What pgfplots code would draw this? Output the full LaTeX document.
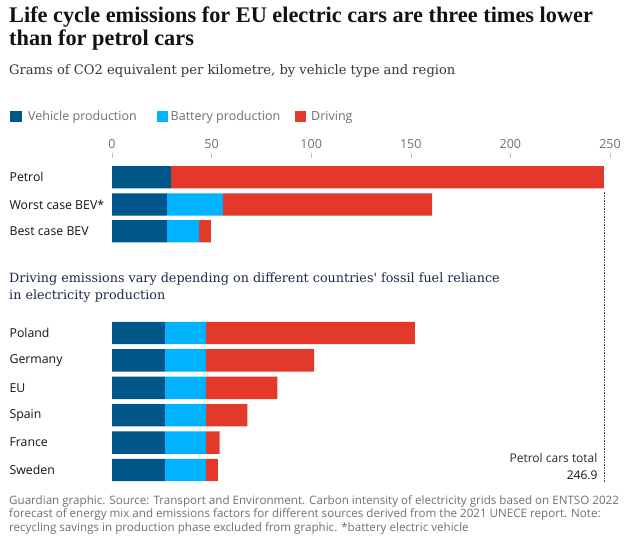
\documentclass[border=0pt]{standalone}
\usepackage{fontspec}
\setmainfont{Open Sans}
\newfontfamily\serif{Liberation Serif}
\newfontfamily\slab{DejaVu Serif}
\usepackage{pgfplots}
\pgfplotsset{compat=1.18}

\definecolor{vehicle}{HTML}{005689}
\definecolor{battery}{HTML}{00B2FF}
\definecolor{driving}{HTML}{E3392A}
\definecolor{ink}{HTML}{121212}
\definecolor{greytxt}{HTML}{707070}
\definecolor{navy}{HTML}{1B2A4A}

\begin{document}
\begin{tikzpicture}[x=1pt,y=1pt]
% page frame, 1 px = 1 pt
\fill[white] (0,0) rectangle (637,-542);
\path[use as bounding box] (0,0) rectangle (637,-542);

% titles
\node[anchor=base west,inner sep=0,text=ink] at (9,-22.7)
  {\serif\bfseries\fontsize{22.3}{23}\selectfont Life cycle emissions for EU electric cars are three times lower};
\node[anchor=base west,inner sep=0,text=ink] at (9,-45)
  {\serif\bfseries\fontsize{22.3}{23}\selectfont than for petrol cars};
\node[anchor=base west,inner sep=0,text=ink!85] at (9,-74)
  {\slab\fontsize{13.1}{16}\selectfont Grams of CO2 equivalent per kilometre, by vehicle type and region};

% legend
\fontsize{12.5}{14}\selectfont
\fill[vehicle] (10,-110.5) rectangle (21.5,-121.5);
\node[anchor=base west,inner sep=0,text=greytxt] at (28,-120.5) {Vehicle production};
\fill[battery] (156.5,-110.5) rectangle (168,-121.5);
\node[anchor=base west,inner sep=0,text=greytxt] at (170.5,-120.5) {Battery production};
\fill[driving] (294.5,-110.5) rectangle (306,-121.5);
\node[anchor=base west,inner sep=0,text=greytxt] at (311,-120.5) {Driving};

% second subtitle
\node[anchor=base west,inner sep=0,text=navy] at (9,-282.7)
  {\slab\fontsize{12.75}{16}\selectfont Driving emissions vary depending on different countries' fossil fuel reliance};
\node[anchor=base west,inner sep=0,text=navy] at (9,-299.3)
  {\slab\fontsize{12.75}{16}\selectfont in electricity production};

\begin{axis}[
  at={(112pt,-482pt)}, anchor=south west,
  scale only axis, width=498pt, height=323.7pt,
  xmin=0, xmax=250, ymin=-482, ymax=-158.3,
  xbar stacked, bar width=22.4,
  axis line style={draw=none},
  xtick={0,50,100,150,200,250},
  xtick pos=upper, xticklabel pos=upper,
  tick align=outside, major tick length=5.6pt,
  xtick style={draw=black!25, line width=0.6pt},
  xticklabel style={text=greytxt, font=\fontsize{12.5}{14}\selectfont, inner sep=0pt, yshift=4pt},
  /pgf/number format/assume math mode=true,
  ytick={-177.2,-204.5,-231.2,-333,-360.4,-387.8,-415.2,-442.6,-470},
  yticklabels={Petrol,Worst case BEV*,Best case BEV,Poland,Germany,EU,Spain,France,Sweden},
  ytick style={draw=none},
  yticklabel style={anchor=west, inner sep=0pt, xshift=-97pt,
    text=ink, font=\fontsize{12.3}{14}\selectfont},
  clip=false,
]
\addplot[fill=vehicle, draw=none] coordinates {
  (29.7,-177.2) (27.5,-204.5) (27.5,-231.2)
  (26.5,-333) (26.5,-360.4) (26.5,-387.8) (26.5,-415.2) (26.5,-442.6) (26.5,-470)};
\addplot[fill=battery, draw=none] coordinates {
  (0,-177.2) (28.2,-204.5) (16.2,-231.2)
  (20.6,-333) (20.6,-360.4) (20.6,-387.8) (20.6,-415.2) (20.6,-442.6) (20.6,-470)};
\addplot[fill=driving, draw=none] coordinates {
  (217.2,-177.2) (105.0,-204.5) (5.9,-231.2)
  (105.0,-333) (54.4,-360.4) (35.9,-387.8) (20.8,-415.2) (6.9,-442.6) (6.1,-470)};

\draw[black!70, line width=0.6pt, dash pattern=on 0.8pt off 0.8pt]
  (axis cs:246.9,-191.5) -- (axis cs:246.9,-482);
\node[anchor=base east, inner sep=0, text=ink!90, font=\fontsize{12}{14}\selectfont]
  at (axis cs:243.8,-462) {Petrol cars total};
\node[anchor=base east, inner sep=0, text=ink, font=\fontsize{12}{14}\selectfont]
  at (axis cs:243.8,-479.5) {246.9};
\end{axis}

% footer
\node[anchor=base west,inner sep=0,text=greytxt,font=\fontsize{11.6}{13}\selectfont] at (9,-504)
  {Guardian graphic. Source: Transport and Environment. Carbon intensity of electricity grids based on ENTSO 2022};
\node[anchor=base west,inner sep=0,text=greytxt,font=\fontsize{11.6}{13}\selectfont] at (9,-517.5)
  {forecast of energy mix and emissions factors for different sources derived from the 2021 UNECE report. Note:};
\node[anchor=base west,inner sep=0,text=greytxt,font=\fontsize{11.6}{13}\selectfont] at (9,-531)
  {recycling savings in production phase excluded from graphic. *battery electric vehicle};
\end{tikzpicture}
\end{document}
